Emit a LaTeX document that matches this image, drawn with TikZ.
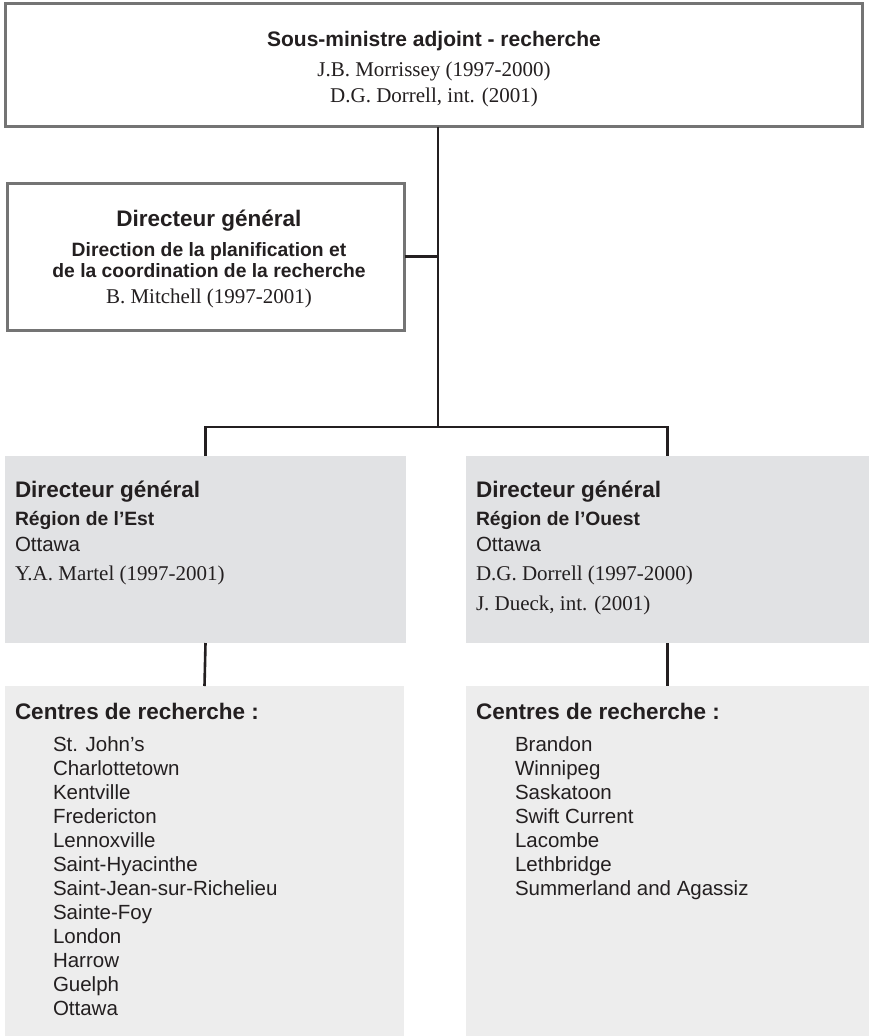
\documentclass[tikz,border=0pt]{standalone}
\usepackage{fontspec}
\setmainfont{Liberation Serif}
\setsansfont{Liberation Sans}
\definecolor{boxline}{HTML}{747474}
\definecolor{conn}{HTML}{231F20}
\definecolor{regionfill}{HTML}{E1E2E4}
\definecolor{centrefill}{HTML}{EDEDED}
\definecolor{ink}{HTML}{231F20}
\tikzset{
  frame/.style={draw=boxline, line width=3pt, fill=white, inner sep=0pt, outer sep=0pt, anchor=north west},
  regionbox/.style={fill=regionfill, inner sep=0pt, outer sep=0pt, anchor=north west},
  centrebox/.style={fill=centrefill, inner sep=0pt, outer sep=0pt, anchor=north west},
  link/.style={draw=conn, line width=2.6pt},
  txt/.style={inner sep=0pt, outer sep=0pt, text=ink},
  head/.style={txt, font=\sffamily\bfseries\fontsize{22.5}{26}\selectfont},
  tophead/.style={txt, font=\sffamily\bfseries\fontsize{21}{25}\selectfont},
  subhead/.style={txt, font=\sffamily\bfseries\fontsize{19.3}{23}\selectfont},
  plain/.style={txt, font=\sffamily\fontsize{20.5}{24}\selectfont},
  person/.style={txt, font=\rmfamily\fontsize{21}{25}\selectfont},
}
\begin{document}
\begin{tikzpicture}[x=1pt, y=-1pt]
\useasboundingbox (0,0) rectangle (869,1036);

% boxes
\node[frame, minimum width=857pt, minimum height=123pt] (sma) at (5.5,3.5) {};
\node[frame, minimum width=397pt, minimum height=147pt] (dgplan) at (7.5,183) {};
\node[regionbox, minimum width=401pt, minimum height=187pt] (est) at (5,456) {};
\node[regionbox, minimum width=403pt, minimum height=187pt] (ouest) at (466,456) {};
\node[centrebox, minimum width=399pt, minimum height=350pt] (estc) at (5,686) {};
\node[centrebox, minimum width=403pt, minimum height=350pt] (ouestc) at (466,686) {};

% connectors
\coordinate (trunk) at (438,427);
\draw[link] (sma.south -| trunk) -- (trunk);
\draw[link] (dgplan.east) -- (dgplan.east -| trunk);
\draw[link] (est.north) -- (est.north |- trunk) -- (ouest.north |- trunk) -- (ouest.north);
\draw[link] (est.south) -- (estc.north);
\draw[link] (ouest.south) -- (ouestc.north);

% deputy minister
\node[tophead, anchor=base] (t1) at (434,46) {Sous-ministre adjoint - recherche};
\node[person, anchor=base] (t2) at (434,76) {J.B. Morrissey (1997-2000)};
\node[person, anchor=base] (t3) at (434,102) {D.G. Dorrell, int. (2001)};

% planning and coordination
\node[head, anchor=base] (p1) at (209,226) {Directeur général};
\node[subhead, anchor=base] (p2) at (209,256) {Direction de la planification et};
\node[subhead, anchor=base] (p3) at (209,277) {de la coordination de la recherche};
\node[person, anchor=base] (p4) at (209,303) {B. Mitchell (1997-2001)};

% eastern region
\node[head, anchor=base west] (e1) at (15,497) {Directeur général};
\node[subhead, anchor=base west] (e2) at (15,525) {Région de l’Est};
\node[plain, anchor=base west] (e3) at (15,551) {Ottawa};
\node[person, anchor=base west] (e4) at (15,580) {Y.A. Martel (1997-2001)};

% western region
\node[head, anchor=base west] (w1) at (476,497) {Directeur général};
\node[subhead, anchor=base west] (w2) at (476,525) {Région de l’Ouest};
\node[plain, anchor=base west] (w3) at (476,551) {Ottawa};
\node[person, anchor=base west] (w4) at (476,580) {D.G. Dorrell (1997-2000)};
\node[person, anchor=base west] (w5) at (476,610) {J. Dueck, int. (2001)};

% research centres, east
\node[head, anchor=base west] (ec) at (15,719) {Centres de recherche :};
\foreach \name [count=\i from 0] in {St. John’s, Charlottetown, Kentville, Fredericton, Lennoxville, Saint-Hyacinthe, Saint-Jean-sur-Richelieu, Sainte-Foy, London, Harrow, Guelph, Ottawa}
  \node[plain, anchor=base west] (ec\i) at (53,751+24*\i) {\name};

% research centres, west
\node[head, anchor=base west] (wc) at (476,719) {Centres de recherche :};
\foreach \name [count=\i from 0] in {Brandon, Winnipeg, Saskatoon, Swift Current, Lacombe, Lethbridge, Summerland and Agassiz}
  \node[plain, anchor=base west] (wc\i) at (515,751+24*\i) {\name};
\end{tikzpicture}
\end{document}
